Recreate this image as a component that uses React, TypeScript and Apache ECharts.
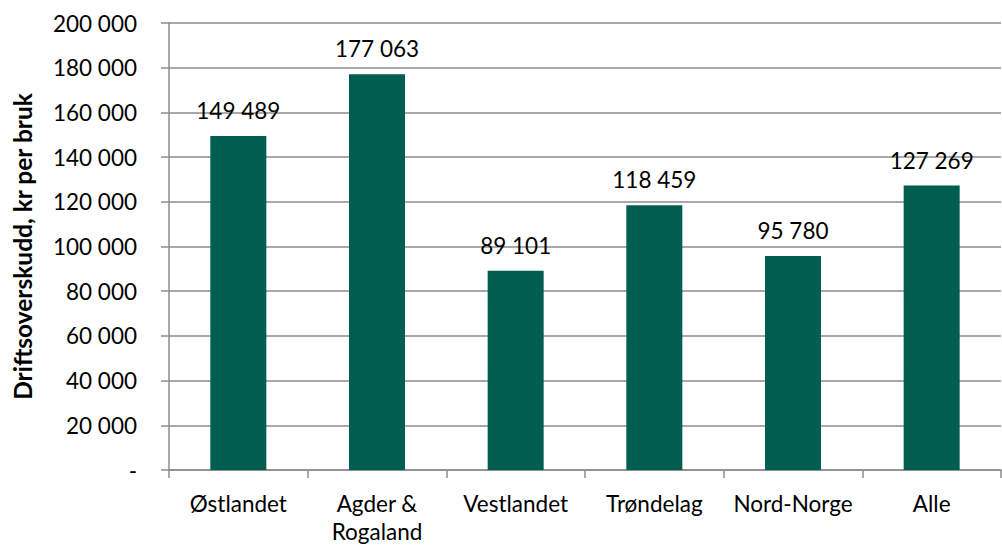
import React, { useEffect, useRef } from "react";
import * as echarts from "echarts";

const categories = ["Østlandet", "Agder &\nRogaland", "Vestlandet", "Trøndelag", "Nord-Norge", "Alle"];
const values = [149489, 177063, 89101, 118459, 95780, 127269];
const yAxisName = "Driftsoverskudd, kr per bruk";

const fmt = (v: number) => {
  if (v === 0) return "-";
  return String(Math.round(v)).replace(/\B(?=(\d{3})+(?!\d))/g, " ");
};

export default function App() {
  const ref = useRef<HTMLDivElement>(null);
  useEffect(() => {
    if (!ref.current) return;
    const chart = echarts.init(ref.current, null, { renderer: "svg" });
    const font = "Lato, 'Open Sans', sans-serif";
    const fs = 22.5;
    chart.setOption({
      animation: false,
      textStyle: { fontFamily: font },
      grid: { left: 169, right: 1, top: 23, bottom: 77, containLabel: false, outerBoundsMode: "none" },
      xAxis: {
        type: "category",
        data: categories,
        axisLine: { show: true, lineStyle: { color: "#8c8c8c", width: 1.5 } },
        axisTick: { show: true, length: 8, alignWithLabel: false, lineStyle: { color: "#8c8c8c", width: 1.5 } },
        axisLabel: { color: "#000", fontSize: fs, fontFamily: font, margin: 19, lineHeight: 28, interval: 0 },
      },
      yAxis: {
        type: "value",
        min: 0,
        max: 200000,
        interval: 20000,
        name: yAxisName,
        nameLocation: "middle",
        nameGap: 134,
        nameTextStyle: { color: "#000", fontSize: 24.5, fontWeight: "bold", fontFamily: font },
        axisLine: { show: true, lineStyle: { color: "#8c8c8c", width: 1.5 } },
        axisTick: { show: true, length: 8, lineStyle: { color: "#8c8c8c", width: 1.5 } },
        axisLabel: { color: "#000", fontSize: fs, fontFamily: font, margin: 32, formatter: (v: number) => fmt(v) },
        splitLine: { show: true, lineStyle: { color: "#8c8c8c", width: 1.5 } },
      },
      series: [
        {
          type: "bar",
          data: values,
          barWidth: 56,
          itemStyle: { color: "#005E50" },
          label: {
            show: true,
            position: "top",
            distance: 14,
            color: "#000",
            fontSize: fs,
            fontFamily: font,
            formatter: (p: any) => fmt(p.value),
          },
        },
      ],
    });
    return () => chart.dispose();
  }, []);
  return <div ref={ref} style={{ width: 1002, height: 547, position: "absolute", left: 0, top: 0, background: "#fff" }} />;
}
